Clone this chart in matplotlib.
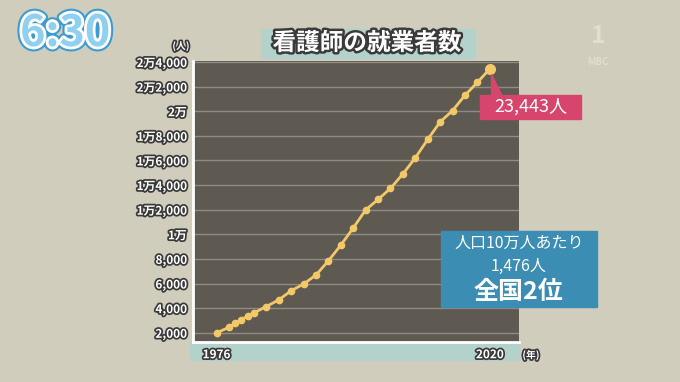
import matplotlib
matplotlib.use('Agg')
import matplotlib.pyplot as plt
import matplotlib.patheffects as pe
from matplotlib.patches import Rectangle, Polygon

plt.rcParams['font.family'] = ['Noto Sans CJK JP', 'DejaVu Sans']

# data
years = [1976, 1978, 1979, 1980, 1981, 1982,
         1984, 1986, 1988, 1990, 1992, 1994, 1996, 1998, 2000,
         2002, 2004, 2006, 2008, 2010, 2012, 2014, 2016, 2018, 2020]
nurses = [2000, 2440, 2770, 3040, 3390, 3610,
          4130, 4670, 5410, 5960, 6690, 7840, 9120, 10510, 11980,
          12830, 13730, 14900, 16210, 17710, 19130, 20050, 21300, 22340, 23443]
yticks = list(range(2000, 24001, 2000))
ylabels = ['2,000', '4,000', '6,000', '8,000', '1万', '1万2,000', '1万4,000',
           '1万6,000', '1万8,000', '2万', '2万2,000', '2万4,000']
xticks = [1976, 2020]

W, H = 680, 382
def fx(x):
    return x / W
def fy(y):
    return 1 - y / H

bg = '#D1CDBC'
fig = plt.figure(figsize=(6.8, 3.82), dpi=100, facecolor=bg)

outline = [pe.withStroke(linewidth=2.5, foreground='#3A3A3A')]

# teal band under the plot
fig.patches.append(Rectangle((fx(190), fy(360)), fx(519) - fx(190), fy(342) - fy(360),
                             transform=fig.transFigure, color='#B4D2CC', zorder=-1))

ax = fig.add_axes([fx(193), fy(342), fx(519) - fx(193), fy(61) - fy(342)])
ax.set_facecolor('#5E5A51')
ax.set_xlim(1972.2, 2024.7)
ax.set_ylim(1250, 24080)
ax.set_yticks(yticks)
ax.set_yticklabels(ylabels)
ax.set_xticks(xticks)
ax.set_xticklabels([str(x) for x in xticks])
ax.grid(axis='y', color='#8E8B83', lw=1)
ax.set_axisbelow(True)
for s in ['top', 'right']:
    ax.spines[s].set_visible(False)
for s in ['left', 'bottom']:
    ax.spines[s].set_color('white')
    ax.spines[s].set_linewidth(2)
ax.tick_params(length=0, pad=4.5, labelsize=8.5, labelcolor='white')
for lab in ax.get_yticklabels() + ax.get_xticklabels():
    lab.set_fontweight('bold')
    lab.set_path_effects(outline)

ax.plot(years, nurses, color='#F3C869', lw=2, marker='o', ms=4.5, zorder=3)
ax.plot(years[-1:], nurses[-1:], 'o', color='#F3C869', ms=7, zorder=4)

# unit labels
fig.text(fx(181), fy(46), '(人)', ha='center', va='center', fontsize=7,
         color='white', fontweight='bold', path_effects=outline)
fig.text(fx(531), fy(355), '(年)', ha='center', va='center', fontsize=7,
         color='white', fontweight='bold', path_effects=outline)

# title
fig.patches.append(Rectangle((fx(261), fy(58)), fx(475) - fx(261), fy(29) - fy(58),
                             transform=fig.transFigure, color='#B4D2CC', zorder=-1))
fig.text(fx(367), fy(43), '看護師の就業者数', ha='center', va='center', fontsize=17,
         color='white', fontweight='bold',
         path_effects=[pe.withStroke(linewidth=3.5, foreground='#3A3A3A')])

# clock
fig.text(fx(65), fy(33), '6:30', ha='center', va='center', fontsize=31,
         color='#8FD0F0', fontweight='bold',
         path_effects=[pe.Stroke(linewidth=7, foreground='#3E9BD0'),
                       pe.Stroke(linewidth=4, foreground='white'), pe.Normal()])

# station logo
fig.text(fx(598), fy(36), '1', ha='center', va='center', fontsize=18,
         color='#E0DDD1', fontweight='bold')
fig.text(fx(598), fy(62), 'MBC', ha='center', va='center', fontsize=7,
         color='#E0DDD1', fontweight='bold')

# pink callout
pink = '#D8456C'
fig.patches.append(Polygon([(fx(491), fy(74)), (fx(491), fy(96)), (fx(502), fy(96))],
                           closed=True, transform=fig.transFigure, color=pink, zorder=5))
fig.patches.append(Rectangle((fx(480), fy(119)), fx(581) - fx(480), fy(95) - fy(119),
                             transform=fig.transFigure, color=pink, zorder=5))
fig.text(fx(531), fy(107), '23,443人', ha='center', va='center', fontsize=13,
         color='white', zorder=6)

# blue info box
blue = '#3B8DB4'
fig.patches.append(Rectangle((fx(441), fy(307)), fx(597) - fx(441), fy(231) - fy(307),
                             transform=fig.transFigure, color=blue, zorder=5))
fig.text(fx(519), fy(243.5), '人口10万人あたり', ha='center', va='center', fontsize=11.5,
         color='white', zorder=6)
fig.text(fx(519), fy(266), '1,476人', ha='center', va='center', fontsize=11.5,
         color='white', zorder=6)
fig.text(fx(518), fy(292), '全国2位', ha='center', va='center', fontsize=18,
         color='white', fontweight='bold', zorder=6)

fig.savefig('out.png', dpi=100, facecolor=bg)
